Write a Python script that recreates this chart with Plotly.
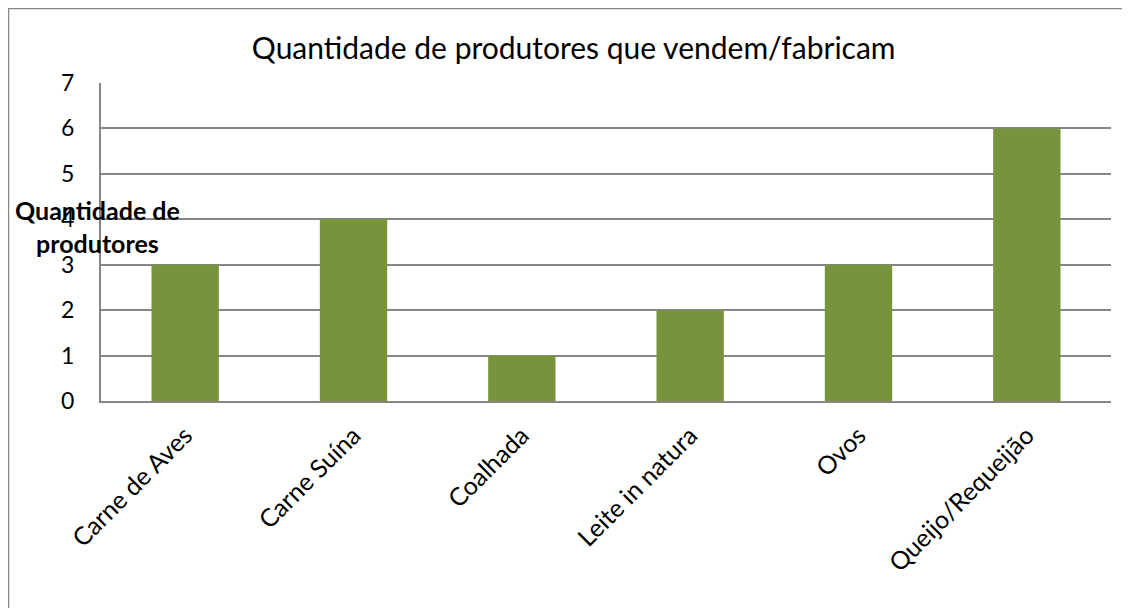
import plotly.graph_objects as go

categories = ["Carne de Aves", "Carne Suína", "Coalhada", "Leite in natura", "Ovos", "Queijo/Requeijão"]
values = [3, 4, 1, 2, 3, 6]
y_ticks = [0, 1, 2, 3, 4, 5, 6, 7]
title_text = "Quantidade de produtores que vendem/fabricam"
y_title = "Quantidade de<br>produtores"

FONT = "Lato"
GRID = "#868686"
BAR = "#77933C"

fig = go.Figure(go.Bar(x=categories, y=values, marker=dict(color=BAR, line=dict(width=0))))

fig.update_layout(
    width=1130, height=608,
    margin=dict(l=93, r=27, t=75, b=215, autoexpand=False),
    paper_bgcolor="white", plot_bgcolor="white",
    bargap=0.6,
    showlegend=False,
    font=dict(family=FONT, color="black"),
    title=dict(text=title_text, x=0.468, xref="paper", xanchor="center",
               y=0.9326, yref="container", yanchor="middle",
               font=dict(family=FONT, size=30, color="black")),
)
fig.update_xaxes(
    showgrid=False, showline=True, linecolor=GRID, linewidth=2,
    tickangle=-45, tickfont=dict(family=FONT, size=25, color="black"),
    ticks="", ticklabelstandoff=8, automargin=False,
)
fig.update_yaxes(
    range=[0, 7], tickvals=y_ticks, showgrid=True, gridcolor=GRID, gridwidth=1.5,
    showline=True, linecolor=GRID, linewidth=2, zeroline=False,
    tickfont=dict(family=FONT, size=23, color="black"),
    ticks="", ticklabelstandoff=20, automargin=False,
)
# outer chart border
fig.add_shape(type="rect", xref="paper", yref="paper",
              x0=-0.0916, x1=1.05, y0=-0.72, y1=1.2343,
              line=dict(color=GRID, width=1.5), fillcolor="rgba(0,0,0,0)", layer="above")
fig.add_annotation(text=y_title, xref="paper", yref="paper",
                   x=-0.0035, y=0.55, xanchor="center", yanchor="middle",
                   showarrow=False, align="center",
                   font=dict(family=FONT, size=25, color="black", weight="bold"))

fig.write_html("out.html")
